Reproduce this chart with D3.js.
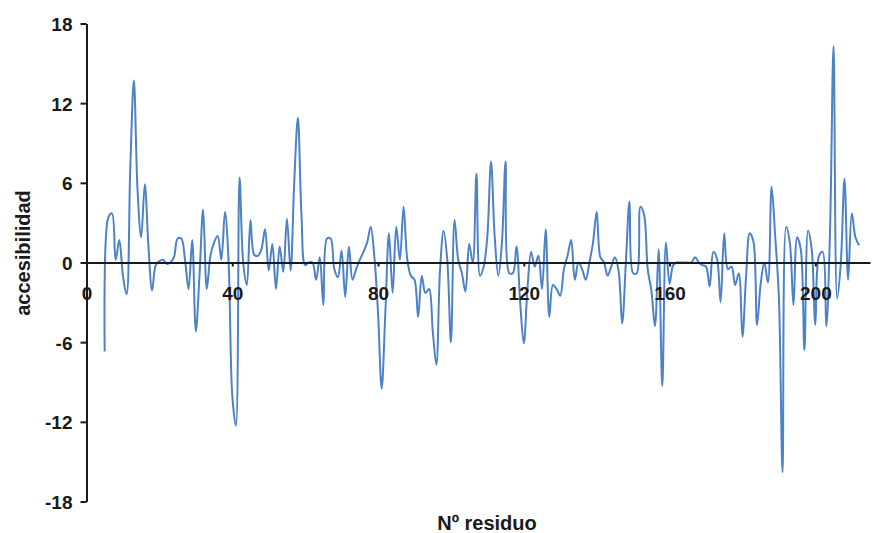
<!DOCTYPE html>
<meta charset="utf-8">
<style>
body{
	margin:0;
	background:#fff;
}
text{
	font-family:"Liberation Sans", Arial, sans-serif;
	font-weight:bold;
	fill:#1a1a1a;
}
.tick text{
	font-size:19px;
}
.title{
	font-size:20px;
}
.axis path, .axis line{
	stroke:#1a1a1a;
	stroke-width:2px;
}
.serie{
	fill:none;
	stroke:#4d82c8;
	stroke-width:2px;
	stroke-linejoin:round;
}
</style>
<body>
<script src="https://cdn.jsdelivr.net/npm/d3@7"></script>
<script>

// first residue of the profile, one value per residue after it
var firstResidue = 5;
var accesibilidad = [
-6.7, 3.4, 3.7, 0.2, 1.7, -1.0, -2.4, 7.0, 13.7, 5.5,
1.9, 5.9, 1.2, -2.1, -0.2, 0.1, 0.2, -0.1, 0.0, 0.4,
1.8, 1.8, 0.3, -2.0, 1.7, -5.2, -1.0, 4.0, -2.0, 0.5,
1.5, 2.0, 0.2, 3.8, 0.0, -10.0, -12.3, 6.4, 0.0, -1.7,
3.2, 0.6, 0.5, 1.0, 2.5, -0.6, 1.4, -2.0, 1.2, -0.7,
3.3, -0.6, 6.0, 10.9, 3.5, -0.2, 0.0, 0.0, -1.3, 0.4,
-3.2, 1.8, 1.8, -0.5, -1.1, 0.9, -2.6, 1.2, -1.3, -0.5,
0.2, 0.8, 1.5, 2.7, 0.4, -3.8, -9.5, -3.8, 2.2, -2.3,
2.7, 0.2, 4.2, 0.3, -1.0, -1.3, -4.1, -1.0, -2.3, -2.0,
-5.1, -7.7, -0.6, 2.4, 0.2, -6.0, 3.2, 0.2, -0.8, -2.2,
1.4, 0.0, 6.7, -1.0, -0.3, 2.0, 7.6, 2.0, -1.0, 1.5,
7.6, -0.8, -0.8, 1.2, -3.0, -6.1, -2.0, 0.8, -0.3, 0.5,
-2.0, 2.5, -4.1, -1.7, -2.0, -2.5, -0.5, 0.5, 1.7, -1.3,
0.0, -0.5, -1.3, 0.0, 1.5, 3.8, 0.4, 0.0, -1.0, -0.3,
0.4, -0.6, -4.6, 0.0, 4.6, -0.8, -0.8, 4.2, 3.6, -0.5,
-2.1, -4.8, 1.0, -9.3, 1.5, -1.6, -0.2, 0.0, 0.0, 0.0,
0.0, 0.0, 0.4, 0.0, -0.2, -0.3, -1.8, 0.8, 0.3, -3.0,
2.2, -0.5, -0.3, -1.7, -0.8, -5.6, -1.0, 2.2, 1.6, -4.7,
-1.6, 0.0, -1.5, 5.7, 1.9, -2.6, -15.8, 2.7, 1.5, -3.2,
1.9, 1.0, -6.6, 2.4, 1.0, -4.7, 0.5, 0.8, -4.8, 2.0,
16.3, -2.7, 0.0, 6.3, -1.3, 3.7, 1.9, 1.3
];
var xTicks = [0, 40, 80, 120, 160, 200];
var yTicks = [-18, -12, -6, 0, 6, 12, 18];

var width = 877, height = 533;

var svg = d3.select("body").append("svg")
	.attr("width", width).attr("height", height);

var x = d3.scaleLinear().domain([0, 215]).range([86.5, 870]);
var y = d3.scaleLinear().domain([-18, 18]).range([501.5, 23.5]);

var data = accesibilidad.map(function(v, i){ return [firstResidue + i, v]; });

// plain hyphen for negatives, like the original
var fmt = d => String(d);

// eje y
svg.append("g").attr("class", "axis")
	.attr("transform", "translate(" + x(0) + ",0)")
	.call(d3.axisLeft(y).tickValues(yTicks).tickFormat(fmt)
		.tickSize(6).tickPadding(8).tickSizeOuter(0))
	.call(g => g.selectAll(".tick text").attr("dy", "0.36em"));

// serie
var line = d3.line()
	.x(d => x(d[0]))
	.y(d => y(d[1]))
	.curve(d3.curveCatmullRom.alpha(0.5));

svg.append("path").datum(data)
	.attr("class", "serie")
	.attr("d", line);

// eje x sobre el cero
svg.append("g").attr("class", "axis")
	.attr("transform", "translate(0," + y(0) + ")")
	.call(d3.axisBottom(x).tickValues(xTicks).tickFormat(fmt)
		.tickSize(4).tickPadding(33).tickSizeOuter(0))
	.call(g => g.selectAll(".tick text").attr("dy", "0"));

svg.append("text").attr("class", "title")
	.attr("x", 487).attr("y", 530)
	.style("text-anchor", "middle")
	.text("Nº residuo");

svg.append("text").attr("class", "title")
	.attr("transform", "translate(30,253) rotate(-90)")
	.style("text-anchor", "middle")
	.text("accesibilidad");

</script>
</body>
